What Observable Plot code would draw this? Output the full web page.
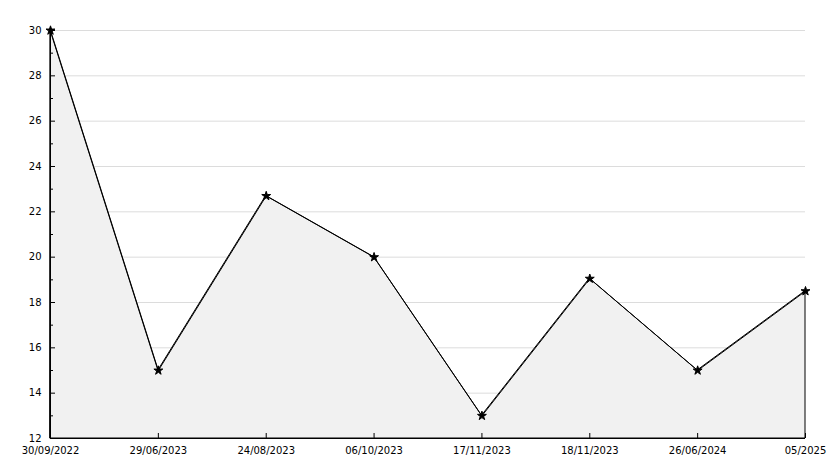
<!DOCTYPE html>
<html>
<head>
<meta charset="utf-8">
<script src="https://cdn.jsdelivr.net/npm/d3@7"></script>
<script src="https://cdn.jsdelivr.net/npm/@observablehq/plot@0.6"></script>
<style>
  html, body { margin: 0; padding: 0; background: #fff; }
  #chart svg { display: block; }
</style>
</head>
<body>
<div id="chart"></div>
<script>
const dates = ["30/09/2022", "29/06/2023", "24/08/2023", "06/10/2023", "17/11/2023", "18/11/2023", "26/06/2024", "05/2025"];
const values = [30, 15, 22.7, 20, 13, 19.05, 15, 18.5];
const majorTicks = [12, 14, 16, 18, 20, 22, 24, 26, 28, 30];
const minorTicks = [13, 15, 17, 19, 21, 23, 25, 27, 29];

const data = dates.map((d, i) => ({date: d, value: values[i]}));
const yMin = 12, yMax = 30;

const chart = Plot.plot({
  width: 834,
  height: 468,
  marginLeft: 50,
  marginRight: 29,
  marginTop: 30,
  marginBottom: 30,
  style: {fontFamily: "DejaVu Sans", fontSize: "10px", color: "#000", background: "#fff"},
  x: {type: "point", domain: dates, padding: 0, round: false, label: null},
  y: {domain: [yMin, yMax], label: null},
  marks: [
    Plot.ruleY(majorTicks.slice(1), {stroke: "#dcdcdc", strokeOpacity: 1}),
    Plot.areaY(data, {x: "date", y1: yMin, y2: "value", fill: "#f1f1f1", stroke: "#000", strokeWidth: 1}),
    Plot.line(data, {x: "date", y: "value", stroke: "#000", strokeWidth: 1}),
    Plot.ruleY([yMin], {stroke: "#000"}),
    Plot.ruleX([dates[0]], {y1: yMin, y2: yMax, stroke: "#000"}),
    Plot.axisY(majorTicks, {tickSize: -5, text: null, stroke: "#000", label: null}),
    Plot.axisY(minorTicks, {tickSize: -3, text: null, stroke: "#000", label: null}),
    Plot.axisY(majorTicks, {tickSize: 0, tickPadding: 9, label: null, fill: "#000"}),
    Plot.axisX(dates.slice(1), {tickSize: -5, text: null, stroke: "#000", label: null}),
    Plot.axisX(dates, {tickSize: 0, tickPadding: 8, label: null, fill: "#000"}),
    Plot.dot(data, {x: "date", y: "value", symbol: "star", r: 2.8, fill: "#000", stroke: "#000", strokeWidth: 1})
  ]
});
document.getElementById("chart").appendChild(chart);
</script>
</body>
</html>
